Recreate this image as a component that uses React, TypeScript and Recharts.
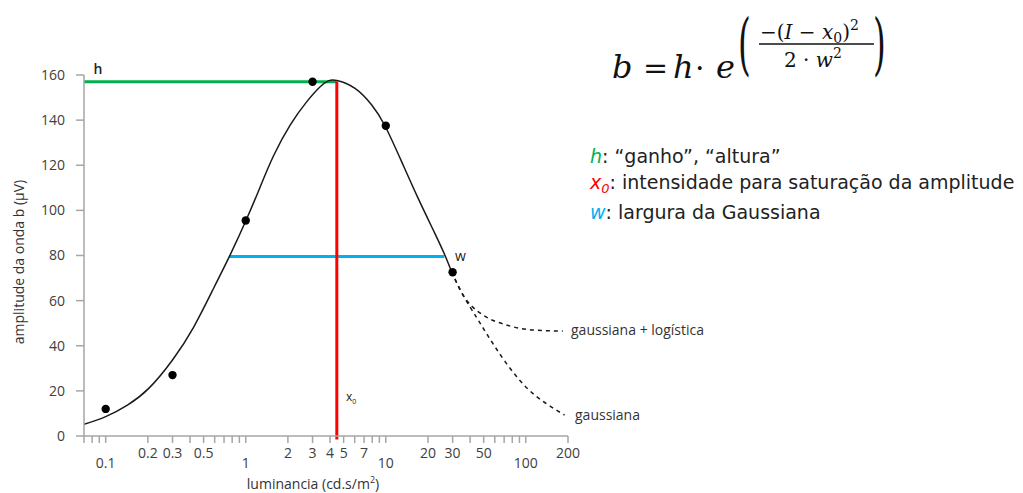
import { ComposedChart, Line, Scatter, XAxis, YAxis, ReferenceLine } from 'recharts';

// fitted gaussian curve (solid part)
const fitX = [0.07, 0.1, 0.143, 0.203, 0.3, 0.426, 0.59, 0.777, 1.02, 1.27, 1.58, 2.08, 2.73, 3.4, 3.89, 4.47, 6.03, 7.94, 9.86, 12.97, 17, 22.4, 26.4, 29.5];
const fitY = [5.2, 8.6, 13.7, 21.1, 33.7, 48.4, 65.5, 80.5, 96.5, 110.5, 124.2, 137.9, 148.2, 154.8, 157.4, 157.6, 154.1, 146.7, 137.5, 121.6, 105.4, 89.8, 80.2, 72.8];

// dashed extrapolations
const gaussX = [29.5, 35.6, 44, 52.3, 72.6, 112, 189];
const gaussY = [72.8, 62.5, 53, 45.5, 32.2, 18.9, 9.3];
const logisticX = [29.5, 35.6, 42, 49.4, 72.6, 112, 183.6];
const logisticY = [72.8, 62.5, 57, 53.6, 49.2, 47, 46.5];

// measured points
const pointX = [0.1, 0.3, 1, 3, 10, 30];
const pointY = [12, 27, 95.5, 157, 137.5, 72.6];

// fit parameters
const H = 157;
const X0 = 4.47;
const wLeft = 0.76;
const wRight = 26.2;
const wLevel = 79.6;

const xTicks = [0.07, 0.08, 0.09, 0.1, 0.2, 0.3, 0.4, 0.5, 0.6, 0.7, 0.8, 0.9, 1, 2, 3, 4, 5, 6, 7, 8, 9, 10, 20, 30, 40, 50, 60, 70, 80, 90, 100, 200];
const upperLabels = [0.2, 0.3, 0.5, 2, 3, 4, 5, 7, 20, 30, 50, 200];
const lowerLabels = [0.1, 1, 10, 100];
const yTicks = [0, 20, 40, 60, 80, 100, 120, 140, 160];

const toRows = (xs: number[], ys: number[]) => xs.map((x, i) => ({ x, y: ys[i] }));
const fitData = toRows(fitX, fitY);
const gaussData = toRows(gaussX, gaussY);
const logisticData = toRows(logisticX, logisticY);
const pointData = toRows(pointX, pointY);

const axisGray = '#a6a6a6';
const tickText = '#404040';
const green = '#00b050';
const red = '#ff0000';
const blue = '#00b0f0';

const XTick = (props: any) => {
  const { x, y, payload } = props;
  const v = payload.value;
  if (upperLabels.includes(v)) {
    return <text x={x} y={y + 13} textAnchor="middle" fontSize={14} fill={tickText}>{String(v)}</text>;
  }
  if (lowerLabels.includes(v)) {
    return <text x={x} y={y + 23} textAnchor="middle" fontSize={14} fill={tickText}>{String(v)}</text>;
  }
  return <g />;
};

const Dot = (p: any) => <circle cx={p.cx} cy={p.cy} r={4.2} fill="#000" />;

export default function App() {
  return (
    <div style={{ position: 'absolute', left: 0, top: 0, width: 1023, height: 493, background: '#fff', fontFamily: '"Open Sans", sans-serif' }}>
      <ComposedChart width={1023} height={493} margin={{ top: 75, right: 455, bottom: 0, left: 0 }}>
        <XAxis
          type="number"
          dataKey="x"
          scale="log"
          domain={[0.07, 200]}
          ticks={xTicks}
          interval={0}
          allowDataOverflow
          height={57}
          stroke={axisGray}
          strokeWidth={1.5}
          tickSize={7}
          tick={<XTick />}
        />
        <YAxis
          type="number"
          dataKey="y"
          domain={[0, 160]}
          ticks={yTicks}
          interval={0}
          width={84}
          stroke={axisGray}
          strokeWidth={1.5}
          tickSize={8}
          tickMargin={11}
          tick={{ fontSize: 14, fill: tickText }}
        />
        <ReferenceLine segment={[{ x: 0.07, y: H }, { x: X0, y: H }]} stroke={green} strokeWidth={3} />
        <ReferenceLine segment={[{ x: wLeft, y: wLevel }, { x: wRight, y: wLevel }]} stroke={blue} strokeWidth={3} />
        <ReferenceLine segment={[{ x: X0, y: -1.5 }, { x: X0, y: H }]} stroke={red} strokeWidth={3} ifOverflow="visible" />
        <Line data={fitData} dataKey="y" type="natural" stroke="#1a1a1a" strokeWidth={1.5} dot={false} isAnimationActive={false} />
        <Line data={gaussData} dataKey="y" type="natural" stroke="#1a1a1a" strokeWidth={1.5} strokeDasharray="4 4" dot={false} isAnimationActive={false} />
        <Line data={logisticData} dataKey="y" type="monotone" stroke="#1a1a1a" strokeWidth={1.5} strokeDasharray="4 4" dot={false} isAnimationActive={false} />
        <Scatter data={pointData} dataKey="y" shape={<Dot />} isAnimationActive={false} />
      </ComposedChart>

      <svg width={1023} height={493} style={{ position: 'absolute', left: 0, top: 0, pointerEvents: 'none' }}>
        {/* axis titles */}
        <text x={20} y={262} transform="rotate(-90 20 262)" textAnchor="middle" fontSize={14} fill="#333" dominantBaseline="middle">amplitude da onda b (µV)</text>
        <text x={313} y={489} textAnchor="middle" fontSize={14} fill="#333">
          luminancia (cd.s/m<tspan fontSize={9} dy={-6}>2</tspan><tspan dy={6}>)</tspan>
        </text>

        {/* in-chart labels */}
        <text x={98} y={74} textAnchor="middle" fontSize={14} fontWeight={600} fill="#222">h</text>
        <text x={455} y={261} fontSize={14} fill="#222">w</text>
        <text x={346} y={401} fontSize={12} fill="#222">x<tspan fontSize={7} dy={3}>0</tspan></text>
        <text x={571} y={335} fontSize={14} fill="#333">gaussiana + logística</text>
        <text x={575} y={420} fontSize={14} fill="#333">gaussiana</text>

        {/* formula */}
        <g fontFamily='"DejaVu Serif", serif' fill="#111">
          <text x={612} y={78} fontSize={32} fontStyle="italic">b</text>
          <text x={643} y={78} fontSize={30}>=</text>
          <text x={673} y={78} fontSize={32} fontStyle="italic">h</text>
          <text x={695} y={78} fontSize={30}>·</text>
          <text x={716} y={78} fontSize={32} fontStyle="italic">e</text>
          <text transform="translate(738 67) scale(0.78 1.62)" fontSize={42}>(</text>
          <text x={760} y={39} fontSize={20}>
            −(<tspan fontStyle="italic">I</tspan> − <tspan fontStyle="italic">x</tspan><tspan fontSize={14} dy={4}>0</tspan><tspan dy={-4}>)</tspan><tspan fontSize={14} dy={-9}>2</tspan>
          </text>
          <line x1={759} y1={44} x2={874} y2={44} stroke="#111" strokeWidth={1.5} />
          <text x={784} y={67} fontSize={20}>
            2 · <tspan fontStyle="italic">w</tspan><tspan fontSize={14} dy={-9}>2</tspan>
          </text>
          <text transform="translate(873 67) scale(0.78 1.62)" fontSize={42}>)</text>
        </g>

        {/* parameter legend */}
        <g fontFamily='"DejaVu Sans", sans-serif' fontSize={19} fill="#222">
          <text x={590} y={163}><tspan fill={green} fontStyle="italic">h</tspan>: “ganho”, “altura”</text>
          <text x={590} y={189}><tspan fill={red} fontStyle="italic">x</tspan><tspan fill={red} fontStyle="italic" fontSize={13} dy={4}>0</tspan><tspan dy={-4}>: intensidade para saturação da amplitude</tspan></text>
          <text x={590} y={219}><tspan fill={blue} fontStyle="italic">w</tspan>: largura da Gaussiana</text>
        </g>
      </svg>
    </div>
  );
}
